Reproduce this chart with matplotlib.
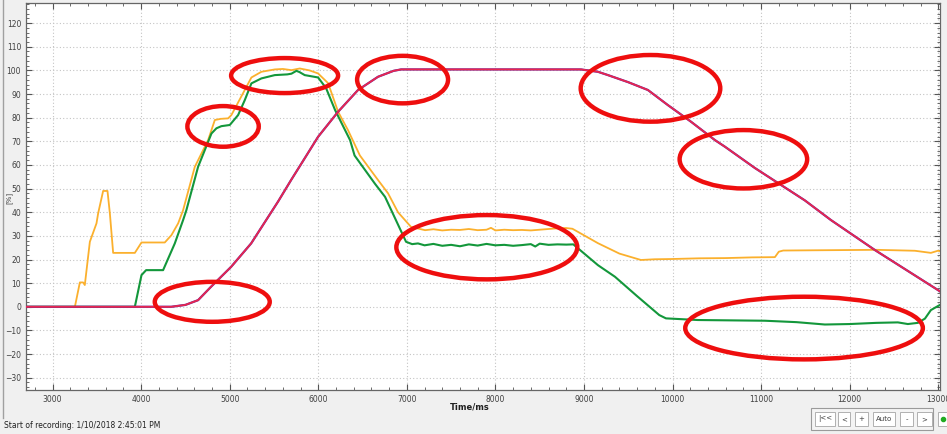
import matplotlib
matplotlib.use("Agg")
import matplotlib.pyplot as plt
from matplotlib.patches import Ellipse, Rectangle
from matplotlib.lines import Line2D
from matplotlib.ticker import MultipleLocator

# time axis in ms, values in %
orange_t = [2700, 3252, 3308, 3345, 3364, 3421, 3496, 3515, 3571, 3620, 3647, 3684, 3929, 4004, 4267,
            4342, 4418, 4474, 4606, 4756, 4832, 4900, 4982, 5019, 5170, 5245, 5358, 5509, 5600, 5697,
            5791, 5900, 5998, 6111, 6224, 6336, 6470, 6675, 6788, 6900, 7047, 7206, 7300, 7400, 7500,
            7600, 7700, 7800, 7900, 7950, 8000, 8100, 8200, 8300, 8400, 8500, 8600, 8700, 8800, 8870,
            9158, 9400, 9643, 9800, 9982, 10300, 10600, 10900, 11156, 11200, 11250, 11600, 11980, 12300,
            12736, 12917, 12996, 13020]
orange_v = [0, 0, 10.3, 10.3, 9.2, 27.5, 35.3, 39.6, 49, 49, 39.5, 22.8, 22.8, 27.2, 27.2,
            30.3, 35.3, 40.9, 59.2, 70.5, 79, 79.5, 79.7, 81.1, 91.7, 97, 99.4, 100.4, 100.6, 100.1,
            100.8, 100, 98.7, 94.6, 82.5, 74.7, 64, 53.6, 48, 40, 33.8, 32.4, 32.8, 32.3, 32.6,
            32.5, 32.9, 32.4, 32.6, 33.4, 32.3, 32.6, 32.4, 32.5, 32.3, 32.6, 32.9, 33.2, 33.3, 33.0,
            26.9, 22.5, 19.8, 20.1, 20.2, 20.5, 20.6, 20.9, 21.0, 23.3, 23.8, 23.9, 24.0, 24.1,
            23.7, 22.8, 23.7, 23.5]

green_t = [2700, 3929, 4004, 4056, 4248, 4380, 4474, 4511, 4643, 4794, 4850, 4906, 5001, 5095, 5170,
           5245, 5358, 5509, 5650, 5697, 5753, 5787, 5847, 5998, 6088, 6190, 6359, 6410, 6641, 6754,
           6991, 7060, 7126, 7200, 7300, 7400, 7500, 7600, 7700, 7800, 7900, 8000, 8100, 8200, 8300,
           8400, 8450, 8500, 8600, 8700, 8800, 8880, 9158, 9350, 9600, 9850, 9926, 10287, 11043, 11400,
           11720, 12000, 12300, 12544, 12657, 12770, 12850, 12917, 12996, 13020]
green_v = [0, 0, 13.4, 15.5, 15.5, 26.8, 36.7, 40.9, 59.2, 73.3, 75.5, 76.4, 76.9, 81.1, 87.4,
           94.5, 96.6, 98, 98.3, 98.6, 99.8, 99.3, 98, 97, 92.5, 83.2, 70.5, 64, 52, 46.5,
           27.5, 26.5, 26.8, 26.0, 26.6, 25.8, 26.2, 25.6, 26.4, 25.9, 26.6, 26.0, 26.2, 25.8, 26.1,
           26.5, 25.5, 26.7, 26.2, 26.4, 26.3, 26.4, 17.6, 12.7, 4.5, -3.5, -4.9, -5.6, -5.9, -6.5,
           -7.5, -7.3, -6.8, -6.6, -7.3, -6.8, -5.0, -1.4, 0.3, 0.8]

red_t = [2700, 4340, 4500, 4643, 4790, 5016, 5242, 5400, 5546, 5693, 5850, 5998, 6224, 6449, 6675,
         6850, 6935, 8966, 9158, 9271, 9500, 9722, 9948, 10208, 10479, 10592, 10930, 11494, 11788,
         12285, 12996, 13020]
red_v = [0, 0, 0.8, 2.8, 8.5, 16.9, 26.8, 36, 44.5, 53.6, 63, 71.9, 82.5, 91.7, 97.3,
         99.8, 100.4, 100.4, 99.4, 98, 95, 91.7, 85.3, 78.3, 70.5, 67.7, 58.7, 45, 36.7,
         24, 7.1, 6.5]

# red marker ellipses: centre x, centre y, width (ms), height (%)
ell_x = [4803, 4925, 5620, 6952, 9751, 10800, 7903, 11485]
ell_y = [2.1, 76.3, 97.8, 96.1, 92.4, 62.4, 25.2, -9.0]
ell_w = [1298, 806, 1208, 1027, 1576, 1440, 2043, 2683]
ell_h = [16.9, 17.2, 14.8, 20.1, 28.2, 24.7, 27.2, 26.5]

buttons = ["|<<", "<", "+", "Auto", "-", ">"]

W, H = 947, 434
fig = plt.figure(figsize=(W / 100, H / 100), dpi=100, facecolor="#f0f0f0")
ax = fig.add_axes([26 / W, 1 - 390 / H, (940 - 26) / W, (390 - 3) / H])
ax.set_facecolor("white")

ax.plot(orange_t, orange_v, color="#fbb02d", lw=1.3, zorder=3)
ax.plot(green_t, green_v, color="#13973b", lw=1.5, zorder=4)
ax.plot(red_t, red_v, color="#5b2aa8", lw=1.6, zorder=5)
ax.plot(red_t, red_v, color="#e8264f", lw=1.3, zorder=6)

for cx, cy, w, h in zip(ell_x, ell_y, ell_w, ell_h):
    ax.add_patch(Ellipse((cx, cy), w, h, fill=False, edgecolor="#ee0e0e", lw=3.2, zorder=7))

ax.set_xlim(2700, 13020)
ax.set_ylim(-35.2, 128.5)
ax.xaxis.set_major_locator(MultipleLocator(1000))
ax.xaxis.set_minor_locator(MultipleLocator(200))
ax.yaxis.set_major_locator(MultipleLocator(10))
ax.yaxis.set_minor_locator(MultipleLocator(2))
ax.tick_params(which="both", direction="in", top=True, right=True, colors="#555555",
               labelsize=5.5, labelcolor="#404040")
ax.tick_params(which="major", length=4, width=0.8)
ax.tick_params(which="minor", length=2, width=0.6)
ax.grid(True, which="major", color="#c4c4c4", linestyle=(0, (1, 2)), lw=0.8)
for s in ax.spines.values():
    s.set_color("#666666")
    s.set_linewidth(0.9)

fig.text(470 / W, 1 - 407 / H, "Time/ms", fontsize=6, fontweight="bold", ha="center", va="center",
         color="#202020")
fig.text(9 / W, 1 - 198 / H, "[%]", fontsize=5, rotation=90, ha="center", va="center",
         color="#404040")
fig.text(4 / W, 1 - 425 / H, "Start of recording: 1/10/2018 2:45:01 PM", fontsize=5.5,
         ha="left", va="center", color="#202020")

# left panel border
fig.add_artist(Line2D([3 / W, 3 / W], [1, 1 - 418 / H], transform=fig.transFigure,
                      color="#a0a0a0", lw=1))

# navigation buttons at the bottom right
fig.add_artist(Rectangle((811 / W, 1 - 430 / H), 122 / W, 22 / H, transform=fig.transFigure,
                         facecolor="#f4f4f4", edgecolor="#9a9a9a", lw=0.8))
bx = [815, 838, 855, 873, 900, 917]
bw = [20, 12, 13, 22, 13, 15]
for x0, w, lab in zip(bx, bw, buttons):
    fig.add_artist(Rectangle((x0 / W, 1 - 426 / H), w / W, 14 / H, transform=fig.transFigure,
                             facecolor="white", edgecolor="#b0b0b0", lw=0.7))
    fig.text((x0 + w / 2) / W, 1 - 419 / H, lab, fontsize=5, ha="center", va="center",
             color="#404040")
fig.add_artist(Rectangle((938 / W, 1 - 426 / H), 12 / W, 14 / H, transform=fig.transFigure,
                         facecolor="white", edgecolor="#b0b0b0", lw=0.7))
fig.add_artist(Line2D([943 / W], [1 - 419 / H], transform=fig.transFigure, marker="o",
                      markersize=3, color="#22aa22"))

fig.savefig("out.png", dpi=100, facecolor=fig.get_facecolor())
